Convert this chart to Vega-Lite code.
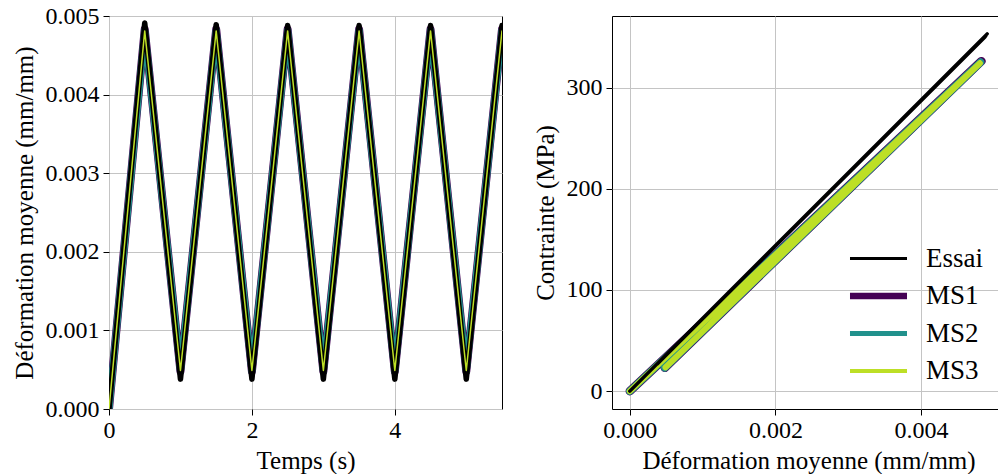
{
  "$schema": "https://vega.github.io/schema/vega-lite/v6.json",
  "padding": {"left": 11, "top": 3, "right": 0, "bottom": 0},
  "background": "white",
  "spacing": 110,
  "bounds": "flush",
  "config": {
    "view": {"stroke": "black", "strokeWidth": 1},
    "axis": {
      "labelFont": "Liberation Serif", "titleFont": "Liberation Serif",
      "labelFontSize": 24, "titleFontSize": 25, "titleFontWeight": "normal",
      "labelColor": "black", "titleColor": "black",
      "tickColor": "black", "tickSize": 6, "domain": false,
      "gridColor": "#c4c4c4", "gridWidth": 1, "labelPadding": 3, "titlePadding": 6,
      "labelFlush": false, "labelOverlap": false
    },
    "axisY": {"labelPadding": 4, "titlePadding": 8},
    "legend": {
      "labelFont": "Liberation Serif", "labelFontSize": 27, "labelColor": "black"
    }
  },
  "datasets": {
    "d": [
      {"series": "Essai", "i": 0, "t": 0, "strain": 0, "stress": 0},
      {"series": "Essai", "i": 1, "t": 0.5, "strain": 0.00491, "stress": 353},
      {"series": "Essai", "i": 2, "t": 1, "strain": 0.00038, "stress": 27},
      {"series": "Essai", "i": 3, "t": 1.5, "strain": 0.00489, "stress": 351},
      {"series": "Essai", "i": 4, "t": 2, "strain": 0.00038, "stress": 27},
      {"series": "Essai", "i": 5, "t": 2.5, "strain": 0.00488, "stress": 350},
      {"series": "Essai", "i": 6, "t": 3, "strain": 0.00038, "stress": 27},
      {"series": "Essai", "i": 7, "t": 3.5, "strain": 0.00488, "stress": 350},
      {"series": "Essai", "i": 8, "t": 4, "strain": 0.00038, "stress": 27},
      {"series": "Essai", "i": 9, "t": 4.5, "strain": 0.00488, "stress": 350},
      {"series": "Essai", "i": 10, "t": 5, "strain": 0.00038, "stress": 27},
      {"series": "Essai", "i": 11, "t": 5.5, "strain": 0.00488, "stress": 350},
      {"series": "MS1", "i": 0, "t": 0, "strain": 0, "stress": 0},
      {"series": "MS1", "i": 1, "t": 0.5, "strain": 0.00483, "stress": 326},
      {"series": "MS1", "i": 2, "t": 1, "strain": 0.00048, "stress": 23},
      {"series": "MS1", "i": 3, "t": 1.5, "strain": 0.00483, "stress": 326},
      {"series": "MS1", "i": 4, "t": 2, "strain": 0.00048, "stress": 23},
      {"series": "MS1", "i": 5, "t": 2.5, "strain": 0.00483, "stress": 326},
      {"series": "MS1", "i": 6, "t": 3, "strain": 0.00048, "stress": 23},
      {"series": "MS1", "i": 7, "t": 3.5, "strain": 0.00483, "stress": 326},
      {"series": "MS1", "i": 8, "t": 4, "strain": 0.00048, "stress": 23},
      {"series": "MS1", "i": 9, "t": 4.5, "strain": 0.00483, "stress": 326},
      {"series": "MS1", "i": 10, "t": 5, "strain": 0.00048, "stress": 23},
      {"series": "MS1", "i": 11, "t": 5.5, "strain": 0.00483, "stress": 326},
      {"series": "MS2", "i": 0, "t": 0, "strain": 0, "stress": 0},
      {"series": "MS2", "i": 1, "t": 0.5, "strain": 0.00482, "stress": 325},
      {"series": "MS2", "i": 2, "t": 1, "strain": 0.00048, "stress": 23},
      {"series": "MS2", "i": 3, "t": 1.5, "strain": 0.00482, "stress": 325},
      {"series": "MS2", "i": 4, "t": 2, "strain": 0.00048, "stress": 23},
      {"series": "MS2", "i": 5, "t": 2.5, "strain": 0.00482, "stress": 325},
      {"series": "MS2", "i": 6, "t": 3, "strain": 0.00048, "stress": 23},
      {"series": "MS2", "i": 7, "t": 3.5, "strain": 0.00482, "stress": 325},
      {"series": "MS2", "i": 8, "t": 4, "strain": 0.00048, "stress": 23},
      {"series": "MS2", "i": 9, "t": 4.5, "strain": 0.00482, "stress": 325},
      {"series": "MS2", "i": 10, "t": 5, "strain": 0.00048, "stress": 23},
      {"series": "MS2", "i": 11, "t": 5.5, "strain": 0.00482, "stress": 325},
      {"series": "MS3", "i": 0, "t": 0, "strain": 0, "stress": 0},
      {"series": "MS3", "i": 1, "t": 0.5, "strain": 0.00481, "stress": 324},
      {"series": "MS3", "i": 2, "t": 1, "strain": 0.00049, "stress": 23.5},
      {"series": "MS3", "i": 3, "t": 1.5, "strain": 0.00481, "stress": 324},
      {"series": "MS3", "i": 4, "t": 2, "strain": 0.00049, "stress": 23.5},
      {"series": "MS3", "i": 5, "t": 2.5, "strain": 0.00481, "stress": 324},
      {"series": "MS3", "i": 6, "t": 3, "strain": 0.00049, "stress": 23.5},
      {"series": "MS3", "i": 7, "t": 3.5, "strain": 0.00481, "stress": 324},
      {"series": "MS3", "i": 8, "t": 4, "strain": 0.00049, "stress": 23.5},
      {"series": "MS3", "i": 9, "t": 4.5, "strain": 0.00481, "stress": 324},
      {"series": "MS3", "i": 10, "t": 5, "strain": 0.00049, "stress": 23.5},
      {"series": "MS3", "i": 11, "t": 5.5, "strain": 0.00481, "stress": 324}
    ]
  },
  "data": {"name": "d"},
  "hconcat": [
    {
      "width": 393,
      "height": 393,
      "encoding": {
        "x": {"field": "t", "type": "quantitative", "scale": {"domain": [0, 5.5], "nice": false, "zero": false},
              "axis": {"title": "Temps (s)", "values": [0, 2, 4], "format": "d", "grid": true}},
        "y": {"field": "strain", "type": "quantitative", "scale": {"domain": [0, 0.005], "nice": false},
              "axis": {"title": "Déformation moyenne (mm/mm)", "values": [0, 0.001, 0.002, 0.003, 0.004, 0.005], "format": ".3f", "grid": true}},
        "color": {"field": "series", "type": "nominal",
                  "scale": {"domain": ["Essai", "MS1", "MS2", "MS3"], "range": ["#000000", "#440154", "#21918c", "#bddf26"]}, "legend": null},
        "strokeWidth": {"field": "series", "type": "nominal",
                  "scale": {"type": "ordinal", "domain": ["Essai", "MS1", "MS2", "MS3"], "range": [5.5, 8, 7, 1.5]}, "legend": null},
        "order": {"field": "i", "type": "quantitative"}
      },
      "layer": [
        {"transform": [{"filter": "datum.series === 'MS1' || datum.series === 'MS2'"}],
         "mark": {"type": "line", "clip": true, "strokeJoin": "round", "strokeCap": "round"}},
        {"transform": [{"filter": "datum.series === 'Essai'"}],
         "mark": {"type": "line", "clip": true, "strokeJoin": "round", "strokeCap": "round"}},
        {"transform": [{"filter": "datum.series === 'MS3'"}],
         "mark": {"type": "line", "clip": true, "strokeJoin": "round", "strokeCap": "round"}}
      ]
    },
    {
      "width": 393,
      "height": 393,
      "encoding": {
        "x": {"field": "strain", "type": "quantitative", "scale": {"domain": [-0.000245, 0.005155], "nice": false, "zero": false},
              "axis": {"title": "Déformation moyenne (mm/mm)", "values": [0, 0.002, 0.004], "format": ".3f", "grid": true}},
        "y": {"field": "stress", "type": "quantitative", "scale": {"domain": [-17.65, 370.65], "nice": false, "zero": false},
              "axis": {"title": "Contrainte (MPa)", "values": [0, 100, 200, 300], "format": "d", "grid": true}},
        "color": {"field": "series", "type": "nominal",
                  "scale": {"domain": ["Essai", "MS1", "MS2", "MS3"], "range": ["#000000", "#440154", "#21918c", "#bddf26"]},
                  "legend": {"title": null, "orient": "none", "legendX": 253, "legendY": 229, "padding": 0,
                             "symbolType": "M-5,0H5", "symbolSize": 130, "labelOffset": 34, "rowPadding": 9.5,
                             "encode": {"symbols": {"update": {"strokeWidth": {"signal": "datum.value === 'Essai' ? 3 : datum.value === 'MS1' ? 6.5 : datum.value === 'MS2' ? 5 : 4"}}}}}},
        "order": {"field": "i", "type": "quantitative"}
      },
      "layer": [
        {"transform": [{"filter": "datum.series === 'MS1'"}],
         "mark": {"type": "line", "clip": true, "strokeJoin": "round", "strokeCap": "round", "strokeWidth": 8.5}},
        {"transform": [{"filter": "datum.series === 'MS2'"}],
         "mark": {"type": "line", "clip": true, "strokeJoin": "round", "strokeCap": "round", "strokeWidth": 7.5}},
        {"transform": [{"filter": "datum.series === 'MS3'"}],
         "mark": {"type": "line", "clip": true, "strokeJoin": "round", "strokeCap": "round", "strokeWidth": 6}},
        {"transform": [{"filter": "datum.series === 'Essai'"}],
         "mark": {"type": "line", "clip": true, "strokeJoin": "round", "strokeCap": "round", "strokeWidth": 3.5}}
      ]
    }
  ],
  "resolve": {
    "scale": {"color": "independent", "strokeWidth": "independent", "x": "independent", "y": "independent"},
    "legend": {"color": "independent", "strokeWidth": "independent"}
  }
}
